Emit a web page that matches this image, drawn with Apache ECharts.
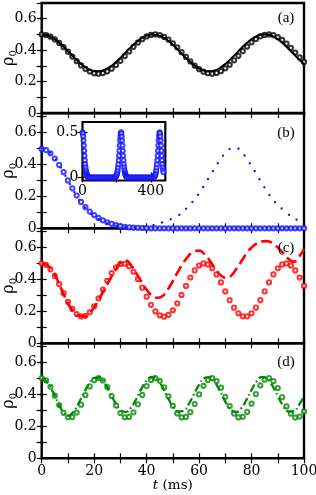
<!DOCTYPE html>
<html><head><meta charset="utf-8">
<script src="https://cdn.jsdelivr.net/npm/echarts@6/dist/echarts.min.js"></script>
<style>html,body{margin:0;padding:0;background:#fff}#c{width:316px;height:495px}</style>
</head><body><div id="c"></div>
<script>
// ---- data ----
const tExp = [0,1.667,3.333,5,6.667,8.333,10,11.667,13.333,15,16.667,18.333,20,21.667,23.333,25,26.667,28.333,30,31.667,33.333,35,36.667,38.333,40,41.667,43.333,45,46.667,48.333,50,51.667,53.333,55,56.667,58.333,60,61.667,63.333,65,66.667,68.333,70,71.667,73.333,75,76.667,78.333,80,81.667,83.333,85,86.667,88.333,90,91.667,93.333,95,96.667,98.333,100];
const tTh = [0,2,4,6,8,10,12,14,16,18,20,22,24,26,28,30,32,34,36,38,40,42,44,46,48,50,52,54,56,58,60,62,64,66,68,70,72,74,76,78,80,82,84,86,88,90,92,94,96,98,100];

const aExp = [0.500,0.496,0.486,0.468,0.446,0.419,0.390,0.359,0.330,0.303,0.281,0.264,0.253,0.250,0.254,0.265,0.282,0.305,0.332,0.362,0.392,0.421,0.448,0.470,0.487,0.497,0.500,0.496,0.484,0.467,0.444,0.417,0.387,0.357,0.328,0.301,0.279,0.263,0.253,0.250,0.255,0.266,0.284,0.307,0.335,0.364,0.394,0.423,0.450,0.471,0.488,0.497,0.500,0.495,0.483,0.465,0.442,0.414,0.385,0.354,0.325];
const aTh = [0.500,0.495,0.480,0.457,0.427,0.393,0.359,0.326,0.299,0.278,0.267,0.266,0.275,0.293,0.319,0.350,0.385,0.419,0.450,0.475,0.492,0.500,0.497,0.485,0.463,0.435,0.402,0.367,0.334,0.305,0.283,0.269,0.265,0.271,0.287,0.312,0.342,0.376,0.410,0.443,0.469,0.489,0.499,0.499,0.489,0.469,0.443,0.410,0.376,0.342,0.312];

const bExp = [0.497,0.49,0.47,0.437,0.397,0.352,0.3,0.25,0.205,0.165,0.132,0.105,0.083,0.065,0.05,0.038,0.028,0.02,0.013,0.009,0.006,0.004,0.003,0.002,0.001,0,0,0,0,0,0,0,0,0,0,0,0,0,0,0,0,0,0,0,0,0,0,0,0,0,0,0,0,0,0,0,0,0,0,0,0];
const bTh = [0.5,0.488,0.458,0.414,0.36,0.3,0.24,0.185,0.14,0.104,0.076,0.054,0.038,0.026,0.018,0.012,0.008,0.006,0.006,0.008,0.012,0.018,0.027,0.037,0.05,0.062,0.08,0.107,0.138,0.176,0.22,0.27,0.326,0.377,0.43,0.47,0.5,0.505,0.48,0.44,0.39,0.336,0.281,0.229,0.182,0.147,0.116,0.088,0.065,0.048,0.035];

const cExp = [0.500,0.491,0.463,0.422,0.370,0.314,0.260,0.215,0.183,0.168,0.172,0.194,0.232,0.281,0.336,0.391,0.440,0.476,0.497,0.498,0.482,0.448,0.402,0.348,0.292,0.241,0.200,0.175,0.167,0.178,0.207,0.250,0.303,0.359,0.412,0.456,0.487,0.500,0.494,0.470,0.431,0.381,0.325,0.270,0.223,0.188,0.169,0.169,0.188,0.223,0.270,0.325,0.381,0.431,0.470,0.494,0.500,0.487,0.456,0.412,0.359];
const cTh = [0.5,0.49,0.455,0.395,0.32,0.25,0.2,0.172,0.168,0.185,0.225,0.28,0.34,0.40,0.455,0.505,0.518,0.49,0.44,0.385,0.335,0.3,0.285,0.295,0.335,0.39,0.45,0.505,0.548,0.575,0.58,0.56,0.52,0.47,0.43,0.41,0.42,0.46,0.51,0.56,0.6,0.625,0.638,0.64,0.625,0.6,0.565,0.53,0.51,0.54,0.59];

const dExp = [0.502,0.488,0.448,0.392,0.333,0.285,0.257,0.258,0.286,0.336,0.395,0.450,0.489,0.502,0.487,0.446,0.390,0.331,0.283,0.257,0.259,0.288,0.338,0.397,0.452,0.490,0.502,0.485,0.444,0.388,0.329,0.281,0.256,0.259,0.289,0.340,0.400,0.454,0.491,0.502,0.484,0.442,0.385,0.327,0.280,0.256,0.260,0.291,0.342,0.402,0.456,0.492,0.502,0.483,0.440,0.383,0.325,0.279,0.255,0.261,0.293];
const dTh = [0.50,0.478,0.426,0.356,0.295,0.265,0.29,0.343,0.406,0.466,0.504,0.506,0.471,0.412,0.349,0.303,0.291,0.316,0.370,0.435,0.487,0.510,0.495,0.447,0.383,0.325,0.293,0.298,0.338,0.399,0.461,0.502,0.508,0.476,0.419,0.355,0.306,0.290,0.312,0.364,0.428,0.483,0.509,0.498,0.453,0.389,0.330,0.294,0.295,0.332,0.393];

const insetT = [0,2,4,6,8,10,12,14,16,18,20,22,24,26,28,30,32,34,36,
  40,46,52,58,64,70,76,82,88,94,100,106,112,118,124,130,136,142,148,154,160,166,172,178,184,190,
  194,196,198,200,202,204,206,208,210,212,214,216,218,220,222,224,226,228,230,232,234,236,238,240,242,244,246,248,250,252,254,256,258,260,
  264,270,276,282,288,294,300,306,312,318,324,330,336,342,348,354,360,366,372,378,384,390,396,402,408,414,
  420,422,424,426,428,430,432,434,436,438,440,442,444,446,448,450,452,454,456,458,460,462,464,466,468,470,472,474];
const insetV = [0.5,0.487,0.455,0.41,0.355,0.297,0.24,0.19,0.145,0.11,0.08,0.058,0.042,0.03,0.02,0.013,0.008,0.005,0.002,
  0,0,0,0,0,0,0,0,0,0,0,0,0,0,0,0,0,0,0,0,0,0,0,0,0,0,
  0.008,0.013,0.02,0.03,0.042,0.058,0.08,0.11,0.145,0.19,0.24,0.297,0.355,0.41,0.455,0.487,0.5,0.487,0.455,0.41,0.355,0.297,0.24,0.19,0.145,0.11,0.08,0.058,0.042,0.03,0.02,0.013,0.008,0.005,
  0,0,0,0,0,0,0,0,0,0,0,0,0,0,0,0,0,0,0,0,0,0,0,0,0,0,
  0.008,0.013,0.02,0.03,0.042,0.058,0.08,0.11,0.145,0.19,0.24,0.297,0.355,0.41,0.455,0.487,0.5,0.487,0.455,0.41,0.355,0.297,0.24,0.19,0.145,0.11,0.08,0.058];

const xTicks = [0,10,20,30,40,50,60,70,80,90,100];
const xLabels = [0,20,40,60,80,100];
const yTicks = [0,0.1,0.2,0.3,0.4,0.5,0.6,0.7];
const yLabels = [0,0.2,0.4,0.6];
const insetXTicks = [0,200,400];
const insetXLabels = [0,400];
const insetYTicks = [0,0.5];
const insetYLabels = [0,0.5];
const panelNames = ['(a)','(b)','(c)','(d)'];

// ---- chart ----
const FONT = 'DejaVu Serif';
const FS = 14;
const TFONT = 'Liberation Serif';
const L = 41.7, W = 262.3;
const layout = [
  {top:3, h:110, max:0.7},
  {top:113.3, h:115, max:0.72},
  {top:228.3, h:115, max:0.72},
  {top:343.3, h:115, max:0.72}
];
const panelLabelY = [18, 133, 248, 362];
const styles = [
  {exp:aExp, th:aTh, color:'#000000', line:{width:2, type:'solid'}},
  {exp:bExp, th:bTh, color:'#1414ff', line:{width:2.3, type:[0.1,9.2], cap:'round'}},
  {exp:cExp, th:cTh, color:'#ff0000', line:{width:2.6, type:[11,5]}},
  {exp:dExp, th:dTh, color:'#008a00', line:{width:2.3, type:[8,3,1.5,3]}}
];
const pair = (xs, ys) => xs.map((x, i) => [x, ys[i]]);
const grid = [], xAxis = [], yAxis = [], series = [], graphic = [];
const tick = (vals) => ({inside:true, length:5, customValues:vals, lineStyle:{color:'#000', width:1.2}});
const lbl = {color:'#000', fontFamily:FONT, fontSize:FS};

layout.forEach((p, i) => {
  grid.push({left:L, top:p.top, width:W, height:p.h, show:true, borderColor:'#000', borderWidth:2.4,
    backgroundColor:'transparent', containLabel:false, outerBoundsMode:'none'});
  const xb = {gridIndex:i, type:'value', min:0, max:100, position:'bottom',
    axisLine:{show:false}, splitLine:{show:false}, axisTick:tick(xTicks),
    axisLabel:Object.assign({show:i===3, customValues:xLabels, margin:6}, lbl)};
  if (i === 3) {
    xb.name = '{it|t} (ms)';
    xb.nameLocation = 'middle';
    xb.nameGap = 20;
    xb.nameMoveOverlap = false;
    xb.nameTextStyle = {color:'#000', fontFamily:FONT, fontSize:13.5, rich:{it:{fontStyle:'italic', fontFamily:FONT, fontSize:13.5, color:'#000'}}};
  }
  xAxis.push(xb);
  xAxis.push({gridIndex:i, type:'value', min:0, max:100, position:'top',
    axisLine:{show:false}, splitLine:{show:false}, axisTick:tick(xTicks), axisLabel:{show:false}});
  yAxis.push({gridIndex:i, type:'value', min:0, max:p.max, position:'left',
    axisLine:{show:false}, splitLine:{show:false}, axisTick:tick(yTicks),
    axisLabel:Object.assign({customValues:yLabels, margin:5}, lbl),
    name:'{r|ρ}{s|0}', nameLocation:'middle', nameGap:23, nameRotate:90, nameMoveOverlap:false,
    nameTextStyle:{color:'#000', fontFamily:FONT, fontSize:16,
      rich:{r:{fontFamily:FONT, fontSize:16, color:'#000', lineHeight:20, verticalAlign:'middle'},
            s:{fontFamily:FONT, fontSize:10, color:'#000', lineHeight:10, verticalAlign:'bottom'}}}});
  yAxis.push({gridIndex:i, type:'value', min:0, max:p.max, position:'right',
    axisLine:{show:false}, splitLine:{show:false}, axisTick:tick(yTicks), axisLabel:{show:false}});
  const s = styles[i];
  series.push({type:'scatter', xAxisIndex:2*i, yAxisIndex:2*i, data:pair(tExp, s.exp),
    symbol:'emptyCircle', symbolSize:4.2, itemStyle:{color:s.color, borderWidth:1.1}, z:2, silent:true});
  series.push({type:'line', xAxisIndex:2*i, yAxisIndex:2*i, data:pair(tTh, s.th),
    showSymbol:false, smooth:true, lineStyle:Object.assign({color:s.color}, s.line), z:3, silent:true});
  graphic.push({type:'text', x:286, y:panelLabelY[i], z:10,
    style:{text:panelNames[i], align:'center', verticalAlign:'middle', fontFamily:TFONT, fontSize:15, fill:'#000'}});
});

// inset (panel b)
grid.push({left:82.5, top:122, width:82.8, height:58.5, show:true, borderColor:'#000', borderWidth:2.2,
  backgroundColor:'#fff', z:5, containLabel:false, outerBoundsMode:'none'});
xAxis.push({gridIndex:4, type:'value', min:0, max:485, position:'bottom', axisLine:{show:false}, splitLine:{show:false},
  axisTick:tick(insetXTicks), axisLabel:Object.assign({customValues:insetXLabels, margin:4}, lbl), z:6});
xAxis.push({gridIndex:4, type:'value', min:0, max:485, position:'top', axisLine:{show:false}, splitLine:{show:false},
  axisTick:tick(insetXTicks), axisLabel:{show:false}, z:6});
yAxis.push({gridIndex:4, type:'value', min:-0.034, max:0.615, position:'left', axisLine:{show:false}, splitLine:{show:false},
  axisTick:tick(insetYTicks), axisLabel:Object.assign({customValues:insetYLabels, margin:4}, lbl), z:6});
yAxis.push({gridIndex:4, type:'value', min:-0.034, max:0.615, position:'right', axisLine:{show:false}, splitLine:{show:false},
  axisTick:tick(insetYTicks), axisLabel:{show:false}, z:6});
series.push({type:'scatter', xAxisIndex:8, yAxisIndex:8, data:pair(insetT, insetV),
  symbol:'emptyCircle', symbolSize:4, itemStyle:{color:'#1414ff', borderWidth:1}, z:7, silent:true});

const chart = echarts.init(document.getElementById('c'), null, {renderer:'canvas'});
chart.setOption({animation:false, backgroundColor:'#fff', grid, xAxis, yAxis, series, graphic});
</script>
</body></html>
